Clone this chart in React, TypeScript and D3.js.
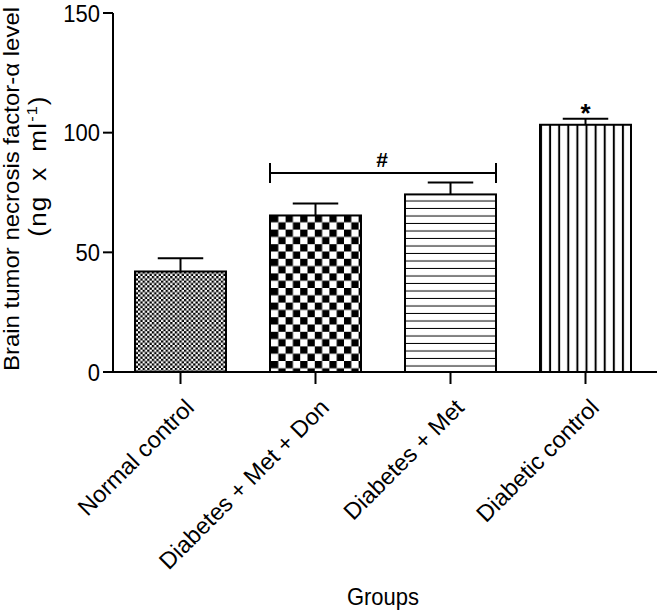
import React from "react";
import * as d3 from "d3";

const categories = ["Normal control", "Diabetes + Met + Don", "Diabetes + Met", "Diabetic control"];
const means = [42, 65.4, 74.2, 103.3];
const errors = [5.5, 5, 5, 2.5];
const patterns = ["fineCheck", "bigCheck", "hLines", "vLines"];
const yTicks = [0, 50, 100, 150];

const W = 657, H = 611;
const FONT = "Liberation Sans, Arial, sans-serif";
const S = 1.09;

export default function App() {
  const x = d3.scaleBand<string>().domain(categories).range([113, 653]).paddingInner(0.326).paddingOuter(0.163);
  const y = d3.scaleLinear().domain([0, 150]).range([372, 13]);
  const bw = x.bandwidth();
  const cx = (c: string) => (x(c) as number) + bw / 2;

  const bx1 = x(categories[1]) as number;
  const bx2 = (x(categories[2]) as number) + bw;
  const by = 173;

  return (
    <svg width={W} height={H} style={{ display: "block", position: "absolute", left: 0, top: 0 }} fontFamily={FONT}>
      <defs>
        <pattern id="fineCheck" patternUnits="userSpaceOnUse" width={4.6} height={4.6}>
          <rect width={4.6} height={4.6} fill="#fff" />
          <rect width={2.3} height={2.3} fill="#000" />
          <rect x={2.3} y={2.3} width={2.3} height={2.3} fill="#000" />
        </pattern>
        <pattern id="bigCheck" patternUnits="userSpaceOnUse" width={14.6} height={14.6} x={271} y={215}>
          <rect width={14.6} height={14.6} fill="#fff" />
          <rect width={7.3} height={7.3} fill="#000" />
          <rect x={7.3} y={7.3} width={7.3} height={7.3} fill="#000" />
        </pattern>
        <pattern id="hLines" patternUnits="userSpaceOnUse" width={10} height={7.5} y={194}>
          <rect width={10} height={7.5} fill="#fff" />
          <rect y={6.5} width={10} height={2} fill="#000" />
        </pattern>
        <pattern id="vLines" patternUnits="userSpaceOnUse" width={9.1} height={10} x={541}>
          <rect width={9.1} height={10} fill="#fff" />
          <rect x={-1} width={2} height={10} fill="#000" />
          <rect x={8.1} width={2} height={10} fill="#000" />
        </pattern>
      </defs>

      {/* bars */}
      {categories.map((c, i) => (
        <rect key={c} x={x(c)} y={y(means[i])} width={bw} height={y(0) - y(means[i])}
          fill={`url(#${patterns[i]})`} stroke="#000" strokeWidth={2} />
      ))}

      {/* error bars */}
      {categories.map((c, i) => (
        <g key={"e" + c} stroke="#000" strokeWidth={2}>
          <line x1={cx(c)} x2={cx(c)} y1={y(means[i])} y2={y(means[i] + errors[i])} />
          <line x1={cx(c) - bw / 4} x2={cx(c) + bw / 4} y1={y(means[i] + errors[i])} y2={y(means[i] + errors[i])} />
        </g>
      ))}

      {/* y axis */}
      <line x1={113} x2={113} y1={y(150)} y2={y(0) + 1} stroke="#000" strokeWidth={2} />
      {yTicks.map(t => (
        <g key={t}>
          <line x1={103} x2={113} y1={y(t)} y2={y(t)} stroke="#000" strokeWidth={2} />
          <text transform={`translate(100,${y(t)}) scale(1,${S})`} dy="0.36em" textAnchor="end" fontSize={22}>{t}</text>
        </g>
      ))}

      {/* x axis */}
      <line x1={112} x2={657} y1={y(0)} y2={y(0)} stroke="#000" strokeWidth={2} />
      {categories.map(c => (
        <g key={"t" + c}>
          <line x1={cx(c)} x2={cx(c)} y1={y(0)} y2={y(0) + 12} stroke="#000" strokeWidth={2} />
          <text transform={`translate(${cx(c) + 15},${y(0) + 37}) rotate(-45)`} textAnchor="end" fontSize={23.5}>{c}</text>
        </g>
      ))}

      {/* significance bracket */}
      <g stroke="#000" strokeWidth={2}>
        <line x1={bx1} x2={bx2} y1={by} y2={by} />
        <line x1={bx1} x2={bx1} y1={by - 10} y2={by + 10} />
        <line x1={bx2} x2={bx2} y1={by - 10} y2={by + 10} />
      </g>
      <text x={(bx1 + bx2) / 2 - 1} y={167} textAnchor="middle" fontSize={21} fontWeight="bold">#</text>
      <text x={cx(categories[3])} y={122} textAnchor="middle" fontSize={26} fontWeight="bold">*</text>

      {/* axis titles */}
      <text transform={`translate(19,189) rotate(-90) scale(${S},1)`} textAnchor="middle" fontSize={22}>Brain tumor necrosis factor-α level</text>
      <text transform={`translate(46,166) rotate(-90) scale(${S},1)`} textAnchor="middle" fontSize={24} wordSpacing={6} letterSpacing={1}>
        (ng x ml<tspan fontSize={15} dy={-9}>-1</tspan><tspan dy={9}>)</tspan>
      </text>
      <text transform={`translate(383,605) scale(1,${S})`} textAnchor="middle" fontSize={22}>Groups</text>
    </svg>
  );
}
